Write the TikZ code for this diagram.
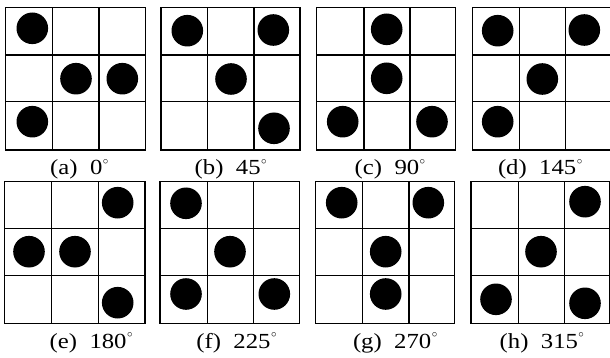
\documentclass[tikz,border=0pt]{standalone}
\usepackage{fontspec}
\newfontfamily\labfont[FakeStretch=1.15]{Liberation Serif}
\newcommand\cellgrid[8]{%
  \draw[gridline] (#1,#5) rectangle (#4,#8);
  \draw[gridline] (#2,#5) -- (#2,#8) (#3,#5) -- (#3,#8)
                  (#1,#6) -- (#4,#6) (#1,#7) -- (#4,#7);}
\newcommand\dg{\hspace{0.5pt}\raisebox{0.5em}{\fontsize{11}{11}\selectfont$\circ$}}
\begin{document}
\begin{tikzpicture}[x=1pt,y=-1pt,
  gridline/.style={line width=1.3pt,black},
  dot/.style={fill=black},
  lab/.style={anchor=base west,inner sep=0pt,font=\labfont\fontsize{21.5}{25}\selectfont}]
\fill[white] (0,0) rectangle (610,358);
\useasboundingbox (0,0) rectangle (610,358);
% top row grids
\cellgrid{5.7}{52.7}{99}{145.7}{7.3}{55}{101.7}{150}
\cellgrid{161}{207.7}{254}{300}{7.3}{55}{101.7}{150}
\cellgrid{316.7}{364}{410}{455.7}{7.3}{55}{101.7}{150}
\cellgrid{472.3}{519.3}{565.7}{612}{7.3}{55}{101.7}{150}
% bottom row grids
\cellgrid{4.7}{51.7}{98.3}{145}{181.7}{228.3}{275.7}{323.3}
\cellgrid{160}{207.3}{253.3}{299.3}{181.7}{228.3}{275.7}{323.3}
\cellgrid{315.7}{362.7}{409}{454.3}{181.7}{228.3}{275.7}{323.3}
\cellgrid{471}{518.3}{564.3}{609.5}{181.7}{228.3}{275.7}{323.3}
% dots (a)
\fill[dot] (32.3,28.3) circle (15.8) (76,78.7) circle (15.8) (122.3,78.7) circle (15.8) (32.3,121.7) circle (15.8);
% dots (b)
\fill[dot] (187.3,30.7) circle (15.8) (273.3,30) circle (15.8) (231,79) circle (15.8) (274,128.3) circle (15.8);
% dots (c)
\fill[dot] (386.7,29.3) circle (15.8) (386.7,78.3) circle (15.8) (342.7,121.7) circle (15.8) (432,121.7) circle (15.8);
% dots (d)
\fill[dot] (497.7,30.7) circle (15.8) (584.3,30) circle (15.8) (542.3,79) circle (15.8) (497.7,121.7) circle (15.8);
% dots (e)
\fill[dot] (117.7,202.7) circle (15.8) (29,251.7) circle (15.8) (75,251.7) circle (15.8) (117.7,302.7) circle (15.8);
% dots (f)
\fill[dot] (186,203.3) circle (15.8) (230,251.7) circle (15.8) (186,294) circle (15.8) (274.3,294) circle (15.8);
% dots (g)
\fill[dot] (341.7,202.7) circle (15.8) (428.3,202.7) circle (15.8) (385.7,251.7) circle (15.8) (385.7,294) circle (15.8);
% dots (h)
\fill[dot] (585,201.7) circle (15.8) (541,251.7) circle (15.8) (496,299.3) circle (15.8) (585,303.3) circle (15.8);
% labels
\node[lab] (la) at (50,175) {(a)~~0\dg};
\node[lab] (lb) at (194.5,175) {(b)~~45\dg};
\node[lab] (lc) at (354.5,175) {(c)~~90\dg};
\node[lab] (ld) at (497.8,175) {(d)~~145\dg};
\node[lab] (le) at (49.5,348) {(e)~~180\dg};
\node[lab] (lf) at (196.2,348) {(f)~~225\dg};
\node[lab] (lg) at (352.8,348) {(g)~~270\dg};
\node[lab] (lh) at (499.5,348) {(h)~~315\dg};
\end{tikzpicture}
\end{document}
